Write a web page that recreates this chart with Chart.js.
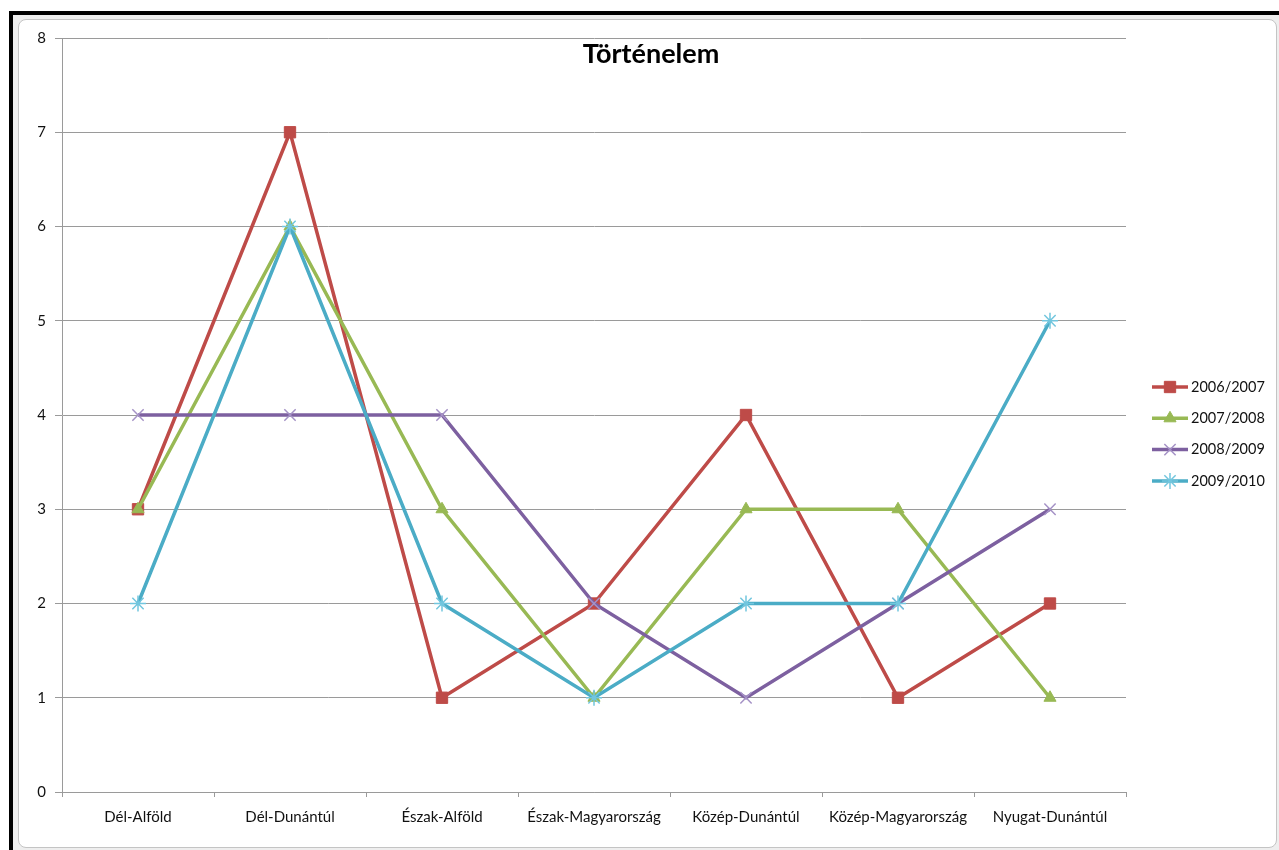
<!DOCTYPE html>
<html>
<head>
<meta charset="utf-8">
<script src="https://cdn.jsdelivr.net/npm/chart.js@4/dist/chart.umd.min.js"></script>
<style>
  body { margin: 0; background: #fff; width: 1279px; height: 850px; overflow: hidden; position: relative; }
  #blacktop { position: absolute; left: 9px; top: 11px; width: 1270px; height: 4px; background: #000; }
  #blackleft { position: absolute; left: 9px; top: 11px; width: 4px; height: 839px; background: #000; }
  #band { position: absolute; left: 13px; top: 15px; width: 1266px; height: 835px; background: #eeeeee; }
  #frame { position: absolute; left: 18px; top: 19px; width: 1257px; height: 827px; background: #fff;
           border: 1px solid #c4c4c4; border-radius: 8px; }
  #chart { position: absolute; left: 0; top: 0; }
</style>
</head>
<body>
<div id="blacktop"></div>
<div id="blackleft"></div>
<div id="band"></div>
<div id="frame"></div>
<canvas id="chart" width="1279" height="850"></canvas>
<script>
// data
const regions = ["Dél-Alföld", "Dél-Dunántúl", "Észak-Alföld", "Észak-Magyarország", "Közép-Dunántúl", "Közép-Magyarország", "Nyugat-Dunántúl"];
const seasons = ["2006/2007", "2007/2008", "2008/2009", "2009/2010"];
const y0607 = [3, 7, 1, 2, 4, 1, 2];
const y0708 = [3, 6, 3, 1, 3, 3, 1];
const y0809 = [4, 4, 4, 2, 1, 2, 3];
const y0910 = [2, 6, 2, 1, 2, 2, 5];
const yMin = 0, yMax = 8, yStep = 1;
const chartTitle = "Történelem";

const font = "Lato, 'Open Sans', sans-serif";
const gridColor = "#9a9a9a";

const titlePlugin = {
  id: "insideTitle",
  afterDraw(chart) {
    const ctx = chart.ctx;
    ctx.save();
    ctx.font = "bold 27px " + font;
    ctx.fillStyle = "#000";
    ctx.textAlign = "center";
    ctx.textBaseline = "middle";
    ctx.fillText(chartTitle, 651, 54);
    ctx.restore();
  }
};

const legendPlugin = {
  id: "sideLegend",
  afterDraw(chart) {
    const ctx = chart.ctx;
    ctx.save();
    chart.data.datasets.forEach((ds, i) => {
      let y = 387 + i * 31.3;
      ctx.strokeStyle = ds.borderColor;
      ctx.lineWidth = 3.5;
      ctx.beginPath();
      ctx.moveTo(1152, y);
      ctx.lineTo(1188, y);
      ctx.stroke();
      ctx.fillStyle = ds.pointBackgroundColor;
      ctx.strokeStyle = ds.pointBorderColor;
      ctx.lineWidth = ds.pointBorderWidth;
      Chart.helpers.drawPoint(ctx, { pointStyle: ds.pointStyle, radius: ds.pointRadius, borderWidth: ds.pointBorderWidth }, 1170, y);
      ctx.fillStyle = "#111";
      ctx.font = "14.5px " + font;
      ctx.textAlign = "left";
      ctx.textBaseline = "middle";
      ctx.fillText(ds.label, 1191, y);
    });
    ctx.restore();
  }
};

new Chart(document.getElementById("chart"), {
  type: "line",
  data: {
    labels: regions,
    datasets: [
      {
        label: seasons[0], data: y0607, order: 3,
        borderColor: "#be4b48", borderWidth: 3.5,
        pointStyle: "rect", pointRadius: 8,
        pointBackgroundColor: "#be4b48", pointBorderColor: "#be4b48", pointBorderWidth: 1
      },
      {
        label: seasons[1], data: y0708, order: 2,
        borderColor: "#98b954", borderWidth: 3.5,
        pointStyle: "triangle", pointRadius: 7,
        pointBackgroundColor: "#98b954", pointBorderColor: "#98b954", pointBorderWidth: 1
      },
      {
        label: seasons[2], data: y0809, order: 1,
        borderColor: "#7d60a0", borderWidth: 3.5,
        pointStyle: "crossRot", pointRadius: 8,
        pointBackgroundColor: "#a592c6", pointBorderColor: "#a592c6", pointBorderWidth: 1.5
      },
      {
        label: seasons[3], data: y0910, order: 0,
        borderColor: "#4bacc6", borderWidth: 3.5,
        pointStyle: "star", pointRadius: 8,
        pointBackgroundColor: "#72c6de", pointBorderColor: "#72c6de", pointBorderWidth: 1.5
      }
    ]
  },
  options: {
    responsive: false,
    animation: false,
    layout: { padding: { left: 0, top: 38, right: 153, bottom: 0 } },
    plugins: {
      legend: { display: false },
      title: { display: false },
      tooltip: { enabled: false }
    },
    elements: { line: { tension: 0 } },
    scales: {
      x: {
        offset: true,
        grid: { offset: true, drawOnChartArea: false, color: gridColor, tickLength: 5 },
        border: { color: gridColor },
        ticks: { color: "#111", font: { family: font, size: 15 }, padding: 11, maxRotation: 0, autoSkip: false },
        afterFit(scale) { scale.height = 58; }
      },
      y: {
        min: yMin, max: yMax,
        grid: { color: gridColor, tickLength: 7 },
        border: { color: gridColor },
        ticks: { stepSize: yStep, color: "#111", font: { family: font, size: 15 }, padding: 9 },
        afterFit(scale) { scale.width = 62; }
      }
    }
  },
  plugins: [titlePlugin, legendPlugin]
});
</script>
</body>
</html>
